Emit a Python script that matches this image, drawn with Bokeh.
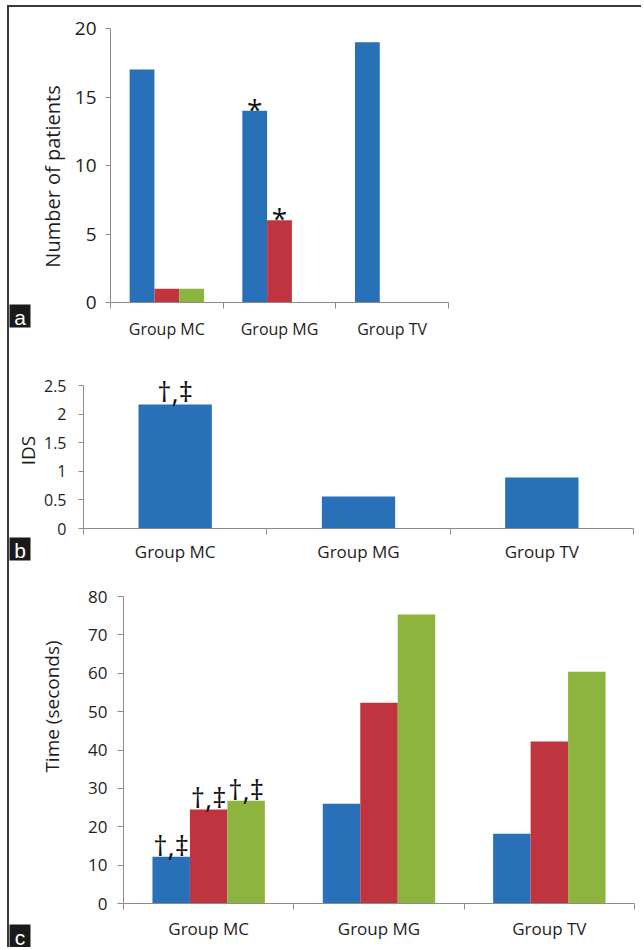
import math
from bokeh.plotting import figure
from bokeh.models import Range1d, FixedTicker, Label, ColumnDataSource
from bokeh.embed import file_html
from bokeh.resources import INLINE
from bokeh.core.properties import value

# ---------------- data ----------------
categories = ["Group MC", "Group MG", "Group TV"]

# panel a: number of patients (three series)
patients_s1 = [17, 14, 19]
patients_s2 = [1, 6, 0]
patients_s3 = [1, 0, 0]
patients_mark_s1 = ["", "*", ""]
patients_mark_s2 = ["", "*", ""]
patients_ticks = [0, 5, 10, 15, 20]

# panel b: IDS
ids_values = [2.17, 0.56, 0.89]
ids_marks = ["\u2020,\u2021", "", ""]
ids_ticks = [0, 0.5, 1, 1.5, 2, 2.5]

# panel c: time (seconds), three series
time_s1 = [12.2, 26.0, 18.2]
time_s2 = [24.5, 52.3, 42.2]
time_s3 = [26.8, 75.3, 60.4]
time_marks = ["\u2020,\u2021", "", ""]
time_ticks = [0, 10, 20, 30, 40, 50, 60, 70, 80]

panel_letters = ["a", "b", "c"]
y_titles = ["Number of patients", "IDS", "Time (seconds)"]

# ---------------- style ----------------
FONT = "Open Sans"
AXIS_COL = "#8c8c8c"
TXT = "#1e1e1e"
BLUE = "#2871b8"
RED = "#c0343f"
GREEN = "#8cb43e"
FRAME_BORDER = "2px solid #3a3a3a"
CANVAS_LEFT = 9      # page x of the canvas' left edge (margin 7 + border 2)
W = 634

n = len(categories)
centers = [i + 0.5 for i in range(n)]
bounds = [i for i in range(n + 1)]


class Panel:
    """A figure whose frame fills the whole canvas; the plot area is placed by pixel geometry."""

    def __init__(self, top, bottom, x0, x1, y0, y1, ymax, styles):
        self.x0, self.y0 = x0, y0
        self.ppx = (x1 - x0) / n
        self.ppy = (y0 - y1) / ymax
        xr = Range1d(self.dx(CANVAS_LEFT), self.dx(CANVAS_LEFT + W))
        yr = Range1d(self.dy(bottom), self.dy(top))
        p = figure(width=W, height=bottom - top, x_range=xr, y_range=yr,
                   output_backend="svg", toolbar_location=None,
                   min_border_left=0, min_border_right=0, min_border_top=0,
                   min_border_bottom=0, styles=styles)
        p.outline_line_color = None
        p.grid.visible = False
        p.background_fill_color = "white"
        p.border_fill_color = "white"
        self.p = p
        self.ymax = ymax

    def dx(self, page_x):
        return (page_x - self.x0) / self.ppx

    def dy(self, page_y):
        return (self.y0 - page_y) / self.ppy


def style_axes(P, yticks, xlab_size, ylab_size, x_standoff, y_standoff, ytick_out):
    p = P.p
    xa = p.xaxis[0]
    xa.fixed_location = 0
    xa.bounds = (0, n)
    xa.ticker = FixedTicker(ticks=centers, minor_ticks=bounds)
    xa.major_label_overrides = {c: lab for c, lab in zip(centers, categories)}
    xa.major_tick_line_color = None
    xa.major_tick_out = 0
    xa.major_tick_in = 0
    xa.minor_tick_line_color = AXIS_COL
    xa.minor_tick_out = 6
    xa.minor_tick_in = 0
    xa.axis_line_color = AXIS_COL
    xa.major_label_text_font = FONT
    xa.major_label_text_font_size = f"{xlab_size}px"
    xa.major_label_text_color = TXT
    xa.major_label_standoff = x_standoff

    ya = p.yaxis[0]
    ya.fixed_location = 0
    ya.bounds = (0, P.ymax)
    ya.ticker = FixedTicker(ticks=yticks)
    ya.major_label_overrides = {t: (str(t) if t != int(t) else str(int(t))) for t in yticks}
    ya.minor_tick_line_color = None
    ya.major_tick_line_color = AXIS_COL
    ya.major_tick_out = ytick_out
    ya.major_tick_in = 0
    ya.axis_line_color = AXIS_COL
    ya.major_label_text_font = FONT
    ya.major_label_text_font_size = f"{ylab_size}px"
    ya.major_label_text_color = TXT
    ya.major_label_standoff = y_standoff


def y_title(P, text, page_cx, page_cy, size):
    P.p.add_layout(Label(x=P.dx(page_cx), y=P.dy(page_cy), text=text, angle=math.pi / 2,
                         text_align="center", text_baseline="middle",
                         text_font=FONT, text_font_size=f"{size}px", text_color=TXT))


def panel_label(P, letter, page_top, size=23):
    left, right = CANVAS_LEFT - 2, CANVAS_LEFT - 2 + size
    top, bottom = page_top, page_top + size
    P.p.quad(left=P.dx(left), right=P.dx(right), top=P.dy(top), bottom=P.dy(bottom),
             fill_color="#1a1a1a", line_color=None)
    P.p.add_layout(Label(x=P.dx((left + right) / 2 + 1), y=P.dy((top + bottom) / 2 + 1),
                         text=letter, text_align="center", text_baseline="middle",
                         text_font="Liberation Sans", text_font_size="21px",
                         text_color="white"))


def grouped_bars(P, series, colors, width, marks=None, mark_size="24px", mark_offset=0):
    p = P.p
    k = len(series)
    for j, (vals, col) in enumerate(zip(series, colors)):
        off = (j - (k - 1) / 2) * width
        xs = [c + off for c in centers]
        src = ColumnDataSource(dict(x=xs, top=vals))
        p.vbar(x="x", top="top", bottom=0, width=width, source=src,
               fill_color=col, line_color=None)
        if marks is not None and marks[j] is not None:
            msrc = ColumnDataSource(dict(x=xs, y=vals, t=marks[j]))
            p.text(x="x", y="y", text="t", source=msrc, text_align="center",
                   text_baseline="alphabetic", text_font=value(FONT),
                   text_font_size=mark_size, text_color="#111111", y_offset=mark_offset)


# ---------------- panel a ----------------
A = Panel(top=7, bottom=370, x0=110, x1=448, y0=302, y1=28, ymax=patients_ticks[-1],
          styles={"margin-left": "7px", "margin-top": "5px",
                  "border-top": FRAME_BORDER, "border-left": FRAME_BORDER})
grouped_bars(A, [patients_s1, patients_s2, patients_s3], [BLUE, RED, GREEN], 0.22,
             marks=[patients_mark_s1, patients_mark_s2, None], mark_size="28px", mark_offset=-2)
style_axes(A, patients_ticks, 16, 19, x_standoff=9, y_standoff=9, ytick_out=5)
y_title(A, y_titles[0], 52, 176, 20)
panel_label(A, panel_letters[0], 304)

# ---------------- panel b ----------------
B = Panel(top=370, bottom=575, x0=83, x1=633, y0=530, y1=387, ymax=ids_ticks[-1],
          styles={"margin-left": "7px", "border-left": FRAME_BORDER})
grouped_bars(B, [ids_values], [BLUE], 0.4, marks=[ids_marks], mark_size="28px", mark_offset=-13)
style_axes(B, ids_ticks, 17, 16, x_standoff=5, y_standoff=12, ytick_out=5)
y_title(B, y_titles[1], 27, 452, 19)
panel_label(B, panel_letters[1], 539)

# ---------------- panel c ----------------
C = Panel(top=575, bottom=949, x0=123, x1=634, y0=905, y1=598, ymax=time_ticks[-1],
          styles={"margin-left": "7px", "border-left": FRAME_BORDER})
grouped_bars(C, [time_s1, time_s2, time_s3], [BLUE, RED, GREEN], 0.22,
             marks=[time_marks, time_marks, time_marks], mark_size="28px", mark_offset=-12)
style_axes(C, time_ticks, 17, 17, x_standoff=7, y_standoff=10, ytick_out=6)
y_title(C, y_titles[2], 51, 708, 19)
panel_label(C, panel_letters[2], 926)

open("out.html", "w").write(file_html([A.p, B.p, C.p], INLINE))
